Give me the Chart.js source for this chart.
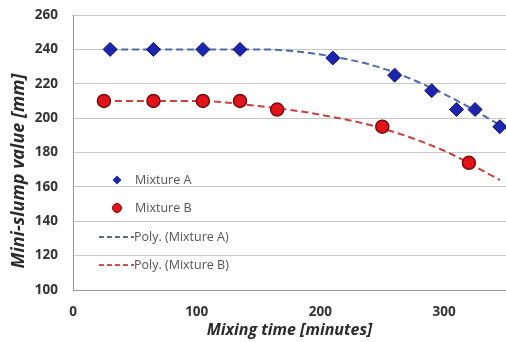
<!DOCTYPE html>
<html>
<head>
<meta charset="utf-8">
<script src="https://cdn.jsdelivr.net/npm/chart.js@4/dist/chart.umd.min.js"></script>
<style>
  html, body { margin: 0; padding: 0; background: #fff; }
  #wrap { width: 506px; height: 342px; }
</style>
</head>
<body>
<div id="wrap"><canvas id="slumpChart" width="506" height="342"></canvas></div>
<script>
// measured points
var timeA = [30, 65, 105, 135, 210, 260, 290, 310, 325, 345];
var slumpA = [240, 240, 240, 240, 235, 225, 216, 205, 205, 195];
var timeB = [25, 65, 105, 135, 165, 250, 320];
var slumpB = [210, 210, 210, 210, 205, 195, 174];

// trend lines
var trendTimeA = [30, 100, 150, 200, 250, 300, 350];
var trendA = [240, 240, 240, 237, 229, 214, 194];
var trendTimeB = [25, 100, 150, 200, 250, 300, 345];
var trendB = [210, 210, 207, 202, 194, 181, 164];

var yTicks = [100, 120, 140, 160, 180, 200, 220, 240, 260];
var xTicks = [0, 100, 200, 300];

var yTitle = "Mini-slump value [mm]";
var legendLabels = ["Mixture A", "Mixture B", "Poly. (Mixture A)", "Poly. (Mixture B)"];

function pts(xs, ys) {
    return xs.map(function(x, i){ return {x: x, y: ys[i]}; });
}

//legend inside the plot + y title (sits a bit below centre in the original)
var extras = {
    id: "extras",
    afterDraw: function(chart) {
        var c = chart.ctx;
        c.save();
        c.textBaseline = "middle";
        var rows = [180, 208, 237, 265];
        // diamond
        c.fillStyle = "#1c24a8";
        c.beginPath();
        c.moveTo(117, rows[0] - 4.5); c.lineTo(121.5, rows[0]); c.lineTo(117, rows[0] + 4.5); c.lineTo(112.5, rows[0]);
        c.closePath(); c.fill();
        // circle
        c.fillStyle = "#e0141a";
        c.strokeStyle = "#7a0a0a";
        c.beginPath(); c.arc(117, rows[1], 4.5, 0, Math.PI * 2); c.fill(); c.stroke();
        // dashed lines
        c.lineWidth = 2;
        c.setLineDash([5, 3]);
        c.strokeStyle = "#5a6a90";
        c.beginPath(); c.moveTo(99, rows[2]); c.lineTo(134, rows[2]); c.stroke();
        c.strokeStyle = "#d05050";
        c.beginPath(); c.moveTo(99, rows[3]); c.lineTo(134, rows[3]); c.stroke();
        c.setLineDash([]);
        c.font = "12.5px 'Open Sans'";
        c.fillStyle = "#555";
        c.fillText(legendLabels[0], 135, rows[0]);
        c.fillText(legendLabels[1], 135, rows[1]);
        c.fillText(legendLabels[2], 134, rows[2]);
        c.fillText(legendLabels[3], 134, rows[3]);

        c.translate(19, 171);
        c.rotate(-Math.PI / 2);
        c.textAlign = "center";
        c.font = "italic bold 18px 'Open Sans'";
        c.fillStyle = "#2a2a2a";
        c.fillText(yTitle, 0, 0);
        c.restore();
    }
};

var ctx = document.getElementById("slumpChart");

var chart = new Chart(ctx, {
    type: "scatter",
    data: {
        datasets: [
            {
                label: "Poly. (Mixture A)",
                data: pts(trendTimeA, trendA),
                showLine: true,
                borderColor: "#4a6aa8",
                borderWidth: 2,
                borderDash: [7, 4],
                pointRadius: 0,
                cubicInterpolationMode: "monotone",
                order: 3
            },
            {
                label: "Poly. (Mixture B)",
                data: pts(trendTimeB, trendB),
                showLine: true,
                borderColor: "#c84040",
                borderWidth: 2,
                borderDash: [7, 4],
                pointRadius: 0,
                cubicInterpolationMode: "monotone",
                order: 4
            },
            {
                label: "Mixture A",
                data: pts(timeA, slumpA),
                pointStyle: "rectRot",
                pointRadius: 7,
                backgroundColor: "#1c24b0",
                borderColor: "#101860",
                borderWidth: 1,
                order: 1
            },
            {
                label: "Mixture B",
                data: pts(timeB, slumpB),
                pointStyle: "circle",
                pointRadius: 6.5,
                backgroundColor: "#e0141a",
                borderColor: "#701010",
                borderWidth: 1.5,
                order: 2
            }
        ]
    },
    options: {
        responsive: false,
        animation: false,
        layout: { autoPadding: false, padding: { top: 15, right: 0, left: 0, bottom: 0 } },
        plugins: {
            legend: { display: false },
            tooltip: { enabled: false }
        },
        scales: {
            x: {
                type: "linear",
                min: 0,
                max: 350,
                afterBuildTicks: function(axis) {
                    axis.ticks = xTicks.map(function(v){ return {value: v}; });
                },
                grid: { display: false, drawTicks: false },
                border: { color: "#999" },
                ticks: {
                    color: "#333",
                    font: { family: "Open Sans", size: 13.5, weight: "bold" },
                    padding: 14,
                    maxRotation: 0
                },
                title: {
                    display: true,
                    text: "Mixing time [minutes]",
                    color: "#2a2a2a",
                    font: { family: "Open Sans", size: 16, weight: "bold", style: "italic" },
                    padding: { top: 0, bottom: 2 }
                },
                afterFit: function(axis) {
                    axis.height = 52;
                    axis.paddingLeft = 0;
                    axis.paddingRight = 0;
                }
            },
            y: {
                min: 100,
                max: 260,
                afterBuildTicks: function(axis) {
                    axis.ticks = yTicks.map(function(v){ return {value: v}; });
                },
                grid: { color: "#c8c8c8", lineWidth: 1, drawTicks: false },
                border: { color: "#999" },
                ticks: {
                    color: "#333",
                    font: { family: "Open Sans", size: 13.5, weight: "bold" },
                    padding: 15
                },
                title: { display: false },
                afterFit: function(axis) {
                    axis.width = 73;
                    axis.paddingTop = 0;
                    axis.paddingBottom = 0;
                }
            }
        }
    },
    plugins: [extras]
});
</script>
</body>
</html>
